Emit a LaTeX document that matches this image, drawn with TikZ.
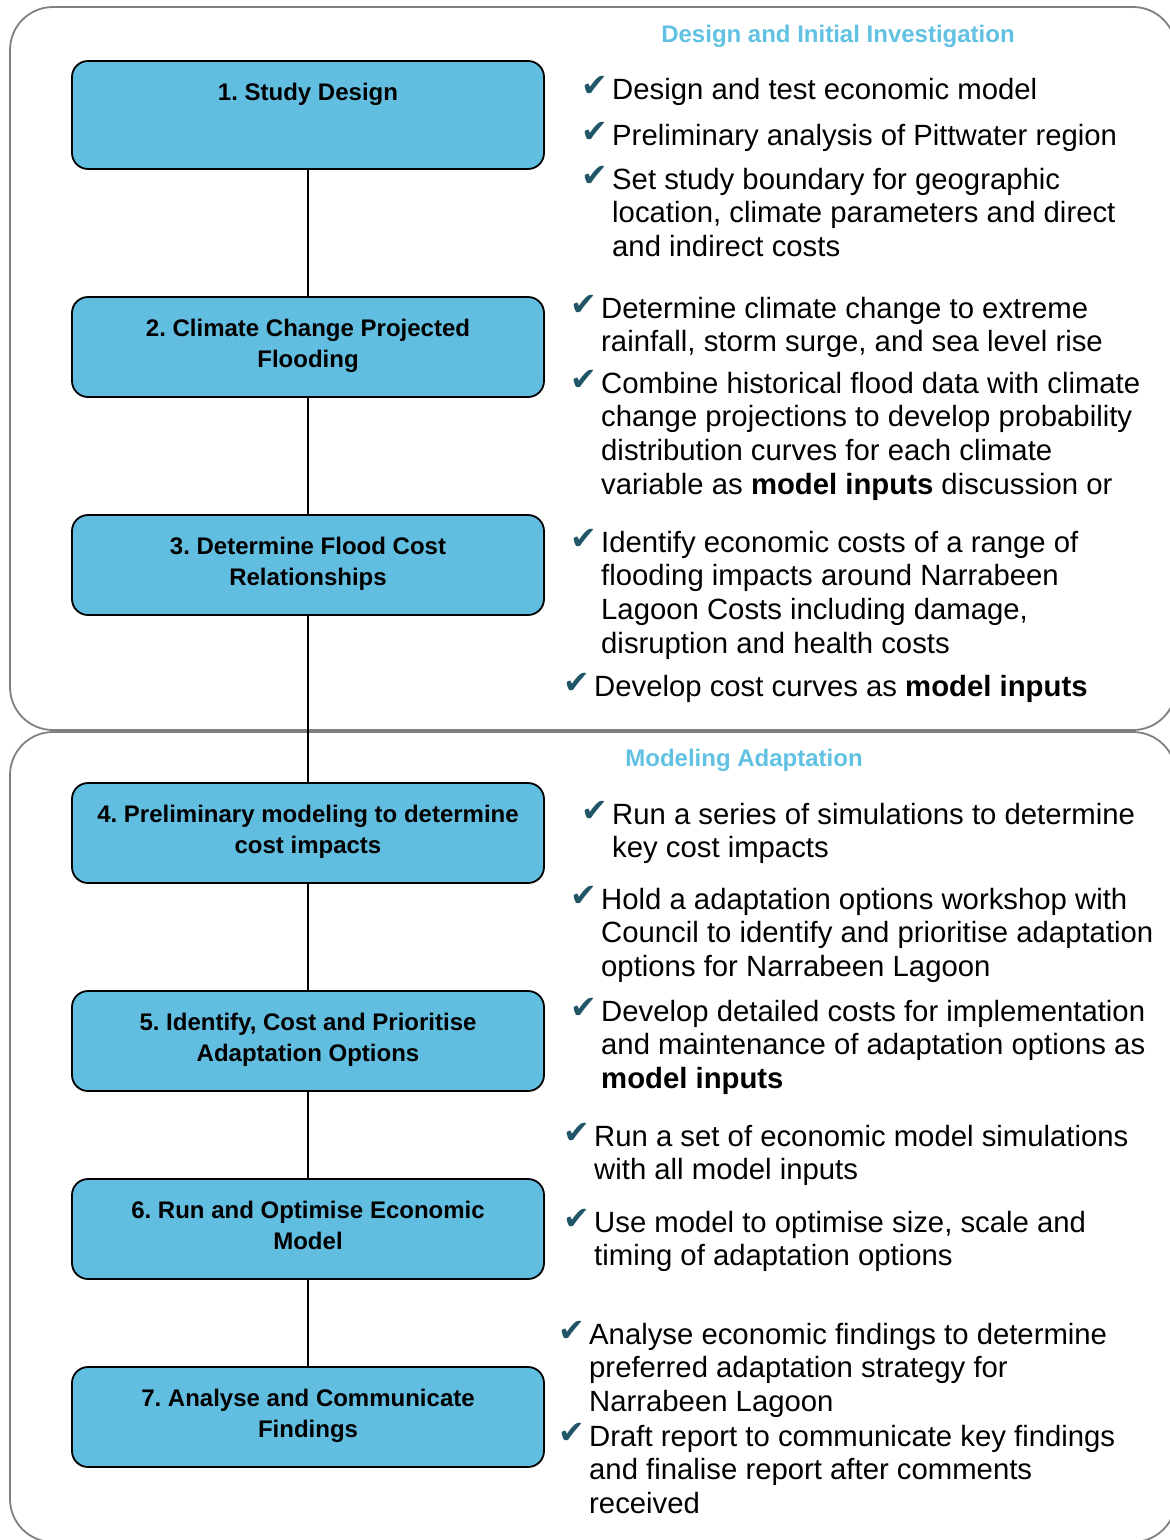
\documentclass[tikz,border=0pt]{standalone}
\usepackage{fontspec}
\setmainfont{Liberation Sans}
\newfontfamily\symfont{DejaVu Sans}

\definecolor{boxblue}{RGB}{97,190,224}
\definecolor{headblue}{RGB}{97,193,226}
\definecolor{chkteal}{RGB}{33,86,104}
\definecolor{panelgray}{RGB}{128,128,128}

\newcommand\mychk{{\symfont\fontsize{32}{32}\selectfont ✔}}

\tikzset{
  stepbox/.style={draw=black, line width=1.8pt, fill=boxblue, rounded corners=16pt,
    minimum width=472pt, minimum height=100pt, inner sep=0pt},
  boxtext/.style={anchor=north, inner sep=0pt, align=center,
    font=\fontsize{24}{31}\selectfont\bfseries},
  bullettext/.style={anchor=north west, inner sep=0pt, align=left,
    font=\fontsize{29.3}{33.8}\selectfont},
  chk/.style={anchor=base west, inner sep=0pt, text=chkteal},
  heading/.style={anchor=base, inner sep=0pt, text=headblue,
    font=\fontsize{24}{28}\selectfont\bfseries},
  panel/.style={draw=panelgray, line width=1.8pt, rounded corners=43pt},
  link/.style={draw=black, line width=1.4pt},
}

\begin{document}
\frenchspacing
\begin{tikzpicture}[x=1pt,y=-1pt]
\useasboundingbox (0,0) rectangle (1170,1540);

% panels
\draw[panel] (10,7) rectangle (1176,730);
\draw[panel] (10,732) rectangle (1176,1542);

% headings
\node[heading] (h1) at (838,42.5) {Design and Initial Investigation};
\node[heading] (h2) at (744,766.5) {Modeling Adaptation};

% step boxes
\node[stepbox, minimum height=108pt] (b1) at (308,115) {};
\node[stepbox] (b2) at (308,347) {};
\node[stepbox] (b3) at (308,565) {};
\node[stepbox] (b4) at (308,833) {};
\node[stepbox] (b5) at (308,1041) {};
\node[stepbox] (b6) at (308,1229) {};
\node[stepbox] (b7) at (308,1417) {};

\node[boxtext] (t1) at (308,78.5) {\strut 1. Study Design};
\node[boxtext] (t2) at (308,314.5) {\strut 2. Climate Change Projected\\Flooding};
\node[boxtext] (t3) at (308,532.5) {\strut 3. Determine Flood Cost\\Relationships};
\node[boxtext] (t4) at (308,800.5) {\strut 4. Preliminary modeling to determine\\cost impacts};
\node[boxtext] (t5) at (308,1008.5) {\strut 5. Identify, Cost and Prioritise\\Adaptation Options};
\node[boxtext] (t6) at (308,1196.5) {\strut 6. Run and Optimise Economic\\Model};
\node[boxtext] (t7) at (308,1384.5) {\strut 7. Analyse and Communicate\\Findings};

% connectors
\draw[link] (b1) -- (b2);
\draw[link] (b2) -- (b3);
\draw[link] (b3) -- (b4);
\draw[link] (b4) -- (b5);
\draw[link] (b5) -- (b6);
\draw[link] (b6) -- (b7);

% bullets, top panel
\node[bullettext] (r1) at (612,75.3) {\strut Design and test economic model};
\node[chk] (c1) at (581.5,96.5) {\mychk};
\node[bullettext] (r2) at (612,121.3) {\strut Preliminary analysis of Pittwater region};
\node[chk] (c2) at (581.5,142.5) {\mychk};
\node[bullettext] (r3) at (612,165.3) {\strut Set study boundary for geographic\\location, climate parameters and direct\\and indirect costs};
\node[chk] (c3) at (581.5,186.5) {\mychk};
\node[bullettext] (r4) at (601,294.3) {\strut Determine climate change to extreme\\rainfall, storm surge, and sea level rise};
\node[chk] (c4) at (570,315.5) {\mychk};
\node[bullettext] (r5) at (601,369.3) {\strut Combine historical flood data with climate\\change projections to develop probability\\distribution curves for each climate\\variable as \textbf{model inputs} discussion or};
\node[chk] (c5) at (570,390.5) {\mychk};
\node[bullettext] (r6) at (601,528.3) {\strut Identify economic costs of a range of\\flooding impacts around Narrabeen\\Lagoon Costs including damage,\\disruption and health costs};
\node[chk] (c6) at (570,549.5) {\mychk};
\node[bullettext] (r7) at (594,672.3) {\strut Develop cost curves as \textbf{model inputs}};
\node[chk] (c7) at (563,693.5) {\mychk};

% bullets, bottom panel
\node[bullettext] (r8) at (612,800.3) {\strut Run a series of simulations to determine\\key cost impacts};
\node[chk] (c8) at (581.5,821.5) {\mychk};
\node[bullettext] (r9) at (601,885.3) {\strut Hold a adaptation options workshop with\\Council to identify and prioritise adaptation\\options for Narrabeen Lagoon};
\node[chk] (c9) at (570,906.5) {\mychk};
\node[bullettext] (r10) at (601,997.3) {\strut Develop detailed costs for implementation\\and maintenance of adaptation options as\\\textbf{model inputs}};
\node[chk] (c10) at (570,1018.5) {\mychk};
\node[bullettext] (r11) at (594,1122.3) {\strut Run a set of economic model simulations\\with all model inputs};
\node[chk] (c11) at (563,1143.5) {\mychk};
\node[bullettext] (r12) at (594,1208.3) {\strut Use model to optimise size, scale and\\timing of adaptation options};
\node[chk] (c12) at (563,1229.5) {\mychk};
\node[bullettext] (r13) at (589,1320.3) {\strut Analyse economic findings to determine\\preferred adaptation strategy for\\Narrabeen Lagoon};
\node[chk] (c13) at (558,1341.5) {\mychk};
\node[bullettext] (r14) at (589,1422.3) {\strut Draft report to communicate key findings\\and finalise report after comments\\received};
\node[chk] (c14) at (558,1443.5) {\mychk};
\end{tikzpicture}
\end{document}
